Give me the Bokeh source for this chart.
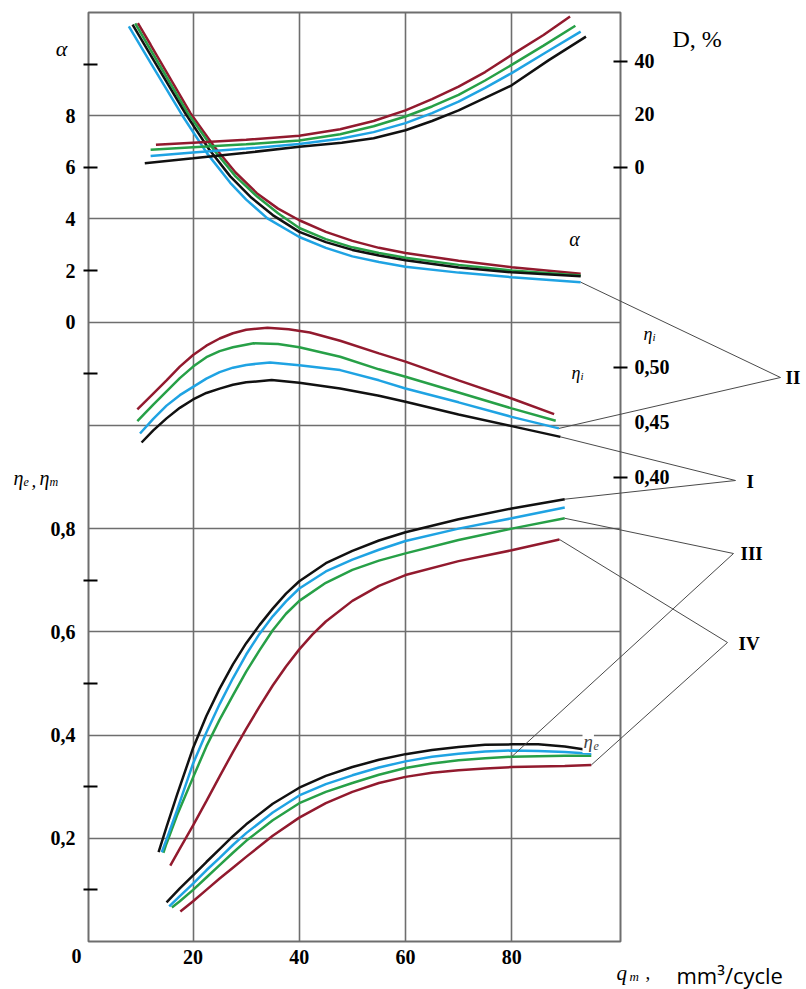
from bokeh.plotting import figure
from bokeh.models import Range1d, LinearAxis, FixedTicker, Label
from bokeh.core.properties import value
from bokeh.embed import file_html
from bokeh.resources import INLINE

# ---------------- data ----------------
# excess air ratio alpha (top panel, left scale)
q_alpha_red = [9.6, 12, 19.5, 24, 28, 32, 36, 40, 45, 50, 55, 60, 70, 80, 93]
alpha_red = [11.59, 10.75, 8.1, 6.8, 5.8, 5.0, 4.4, 3.95, 3.5, 3.15, 2.88, 2.68, 2.38, 2.13, 1.88]
q_alpha_green = [9.1, 12, 19, 24, 28, 32, 36, 40, 45, 50, 55, 60, 70, 80, 93]
alpha_green = [11.58, 10.55, 8.1, 6.65, 5.65, 4.88, 4.22, 3.65, 3.22, 2.9, 2.68, 2.5, 2.22, 2.0, 1.81]
q_alpha_blue = [7.9, 12, 18, 22.6, 27, 30, 34, 40, 45, 50, 55, 60, 70, 80, 93]
alpha_blue = [11.46, 10.05, 8.0, 6.55, 5.4, 4.75, 4.02, 3.3, 2.88, 2.55, 2.33, 2.15, 1.92, 1.74, 1.55]
q_alpha_black = [8.6, 12, 18.5, 23, 27, 31, 35, 40, 45, 50, 55, 60, 70, 80, 93]
alpha_black = [11.53, 10.35, 8.1, 6.7, 5.65, 4.82, 4.15, 3.5, 3.1, 2.8, 2.58, 2.4, 2.12, 1.93, 1.78]

# D, % (top panel, right scale)
q_D_red = [13, 20, 30, 40, 47.7, 54, 60, 65, 70, 75, 80, 86, 91]
D_red = [8.5, 9.3, 10.4, 11.9, 14.4, 17.5, 21.5, 25.8, 30.5, 36.0, 42.5, 50.0, 57.0]
q_D_green = [12, 20, 30, 40, 47.7, 54, 60, 65, 70, 75, 80, 86, 92]
D_green = [6.6, 7.6, 8.7, 10.1, 12.5, 15.5, 19.2, 23.0, 27.4, 32.8, 38.7, 46.0, 53.5]
q_D_blue = [12, 20, 30, 40, 47.7, 54, 60, 65, 70, 75, 80, 86.5, 93]
D_blue = [4.3, 5.6, 7.1, 8.8, 10.8, 13.3, 16.7, 20.5, 24.8, 30.0, 35.6, 43.5, 51.3]
q_D_black = [10.9, 20, 30, 40, 48, 54, 60, 65, 70, 75, 80, 87, 94]
D_black = [1.5, 3.4, 5.5, 7.8, 9.3, 11.0, 14.0, 17.5, 21.5, 26.2, 31.0, 40.5, 49.4]

# indicated efficiency eta_i (middle panel, right scale)
q_ei_red = [9.5, 12.5, 15, 17.5, 20, 22.5, 25, 27.5, 30, 34, 38, 42, 47.7, 55, 60, 70, 80, 88]
ei_red = [0.4616, 0.476, 0.488, 0.5005, 0.511, 0.5195, 0.526, 0.5308, 0.534, 0.5358, 0.5345,
          0.5315, 0.524, 0.5125, 0.505, 0.488, 0.4715, 0.4573]
q_ei_green = [9.5, 12.5, 15, 17.5, 20, 22.5, 25, 27.5, 31.4, 36, 40, 47.7, 55, 60, 70, 80, 88.3]
ei_green = [0.4509, 0.466, 0.478, 0.490, 0.5005, 0.509, 0.5145, 0.518, 0.5216, 0.521, 0.518,
            0.5094, 0.498, 0.4912, 0.477, 0.4625, 0.4512]
q_ei_blue = [10, 12.5, 15, 17.5, 20, 22.5, 25, 27.5, 30, 34.5, 40, 47.7, 55, 60, 70, 80, 88.9]
ei_blue = [0.4397, 0.453, 0.465, 0.4745, 0.482, 0.4895, 0.4955, 0.4995, 0.502, 0.5043, 0.5018,
           0.4973, 0.488, 0.4806, 0.468, 0.4548, 0.4443]
q_ei_black = [10.3, 12.5, 15, 17.5, 20, 22.5, 25, 27.5, 30, 34.8, 40, 47.7, 55, 60, 70, 80, 89.2]
ei_black = [0.4315, 0.4425, 0.4534, 0.463, 0.4706, 0.4765, 0.4805, 0.484, 0.4862, 0.4882, 0.4857,
            0.4806, 0.474, 0.4685, 0.457, 0.4464, 0.4366]

# mechanical efficiency eta_m (bottom panel, left scale)
q_em_red = [15.7, 17.5, 20, 22.5, 25, 27.5, 30, 32.5, 35, 37.5, 40, 42.5, 45, 50, 55, 60, 70, 80, 89]
em_red = [0.147, 0.18, 0.225, 0.272, 0.32, 0.367, 0.412, 0.455, 0.496, 0.533, 0.566, 0.595, 0.62,
          0.66, 0.689, 0.71, 0.737, 0.758, 0.779]
q_em_green = [14.4, 15, 17, 20, 22.5, 25, 27.5, 30, 32.5, 35, 37.5, 40, 45, 50, 55, 60, 70, 80, 90]
em_green = [0.172, 0.19, 0.245, 0.318, 0.378, 0.43, 0.477, 0.523, 0.564, 0.603, 0.635, 0.66, 0.695,
            0.72, 0.738, 0.752, 0.778, 0.800, 0.820]
q_em_blue = [14.1, 15, 17, 20, 22.5, 25, 27.5, 30, 32.5, 35, 37.5, 40, 45, 50, 55, 60, 70, 80, 90]
em_blue = [0.173, 0.198, 0.255, 0.345, 0.405, 0.46, 0.51, 0.556, 0.596, 0.630, 0.659, 0.684, 0.717,
           0.740, 0.759, 0.776, 0.800, 0.820, 0.841]
q_em_black = [13.5, 15, 17, 20, 22.5, 25, 27.5, 30, 32.5, 35, 37.5, 40, 45, 50, 55, 60, 70, 80, 90]
em_black = [0.173, 0.222, 0.285, 0.375, 0.437, 0.49, 0.537, 0.578, 0.613, 0.645, 0.674, 0.698, 0.733,
            0.757, 0.777, 0.793, 0.818, 0.839, 0.857]

# effective efficiency eta_e (bottom panel, left scale)
q_ee_red = [17.6, 20, 22.5, 25, 27.5, 30, 35, 40, 45, 50, 55, 60, 65, 70, 75, 80, 85, 90, 95]
ee_red = [0.058, 0.078, 0.1, 0.122, 0.143, 0.164, 0.205, 0.24, 0.268, 0.29, 0.307, 0.319, 0.327,
          0.332, 0.335, 0.338, 0.339, 0.340, 0.342]
q_ee_green = [16, 17.5, 20, 22.5, 25, 27.5, 30, 35, 40, 45, 50, 55, 60, 65, 70, 75, 80, 85, 90, 95]
ee_green = [0.066, 0.078, 0.100, 0.124, 0.148, 0.172, 0.195, 0.235, 0.268, 0.29, 0.307, 0.323, 0.336,
            0.345, 0.351, 0.355, 0.358, 0.359, 0.36, 0.36]
q_ee_blue = [15.5, 17.5, 20, 22.5, 25, 27.5, 30, 35, 40, 45, 50, 55, 60, 65, 70, 75, 80, 85, 90, 95]
ee_blue = [0.068, 0.088, 0.112, 0.138, 0.162, 0.187, 0.21, 0.25, 0.283, 0.305, 0.322, 0.337, 0.349,
           0.358, 0.364, 0.368, 0.370, 0.369, 0.367, 0.364]
q_ee_black = [15, 17.5, 20, 22.5, 25, 27.5, 30, 35, 40, 45, 50, 55, 60, 65, 70, 75, 80, 85, 90, 95]
ee_black = [0.076, 0.103, 0.128, 0.154, 0.179, 0.204, 0.227, 0.267, 0.298, 0.321, 0.338, 0.352, 0.363,
            0.371, 0.377, 0.381, 0.382, 0.382, 0.378, 0.370]

# tick values / labels
x_grid = [20, 40, 60, 80]
x_labels = ["20", "40", "60", "80"]
eta_ticks = [0.2, 0.4, 0.6, 0.8]
eta_labels = ["0,2", "0,4", "0,6", "0,8"]
eta_minor = [0.1, 0.3, 0.5, 0.7, 1.1]
alpha_ticks = [0, 2, 4, 6, 8]
alpha_labels = ["0", "2", "4", "6", "8"]
alpha_minor = [2, 6, 10]
D_ticks = [0, 20, 40]
D_labels = ["0", "20", "40"]
D_minor = [0, 40]
ei_ticks = [0.40, 0.45, 0.50]
ei_labels = ["0,40", "0,45", "0,50"]
ei_minor = [0.40, 0.50]

RED, GREEN, BLUE, BLACK = "#921a2e", "#27a047", "#1fa3e3", "#111111"
GRID = "#6e6e6e"


# ---------------- scales ----------------
def a2m(a):   # alpha -> main (eta_e) scale
    return 1.2 + a / 20.0


def d2m(d):   # D -> main
    return 1.5 + d / 195.0


def i2m(e):   # eta_i -> main
    return 1.0063 + (e - 0.45) * 2.132


W, H = 806, 989
L, R, T, B = 88, 186, 12, 48
X0, X1 = 0.3, 100.5
Y0, Y1 = 0.0, 1.8
FW, FH = W - L - R, H - T - B


def X(px):
    return X0 + (px - L) * (X1 - X0) / FW


def Y(py):
    return Y0 + (H - B - py) * (Y1 - Y0) / FH


p = figure(width=W, height=H, x_range=Range1d(X0, X1), y_range=Range1d(Y0, Y1),
           output_backend="svg", toolbar_location=None,
           x_axis_location=None, y_axis_location=None,
           min_border_left=L, min_border_right=R, min_border_top=T, min_border_bottom=B)
p.extra_y_ranges = {
    "alpha": Range1d(20 * (Y0 - 1.2), 20 * (Y1 - 1.2)),
    "D": Range1d(195 * (Y0 - 1.5), 195 * (Y1 - 1.5)),
    "eta_i": Range1d(0.45 + (Y0 - 1.0063) / 2.132, 0.45 + (Y1 - 1.0063) / 2.132),
}
p.outline_line_color = GRID
p.outline_line_width = 2
p.background_fill_color = "white"
p.border_fill_color = "white"

p.xgrid.ticker = FixedTicker(ticks=x_grid)
p.ygrid.ticker = FixedTicker(ticks=[0.2, 0.4, 0.6, 0.8, 1.0, 1.2, 1.4, 1.6])
for g in (p.xgrid, p.ygrid):
    g.grid_line_color = GRID
    g.grid_line_width = 1.6


def style_axis(ax, standoff, tin, tout):
    ax.axis_line_color = None
    ax.major_tick_in = 0
    ax.major_tick_out = 0
    ax.major_tick_line_color = None
    ax.minor_tick_in = tin
    ax.minor_tick_out = tout
    ax.minor_tick_line_color = "black"
    ax.minor_tick_line_width = 2.2
    ax.major_label_standoff = standoff
    ax.major_label_text_font = "Liberation Serif"
    ax.major_label_text_font_style = "bold"
    ax.major_label_text_font_size = "20px"
    ax.major_label_text_color = "black"


# left axis: eta_e/eta_m and alpha on the same line
l_ticks = list(eta_ticks) + [a2m(a) for a in alpha_ticks]
l_lab = list(eta_labels) + list(alpha_labels)
l_minor = list(eta_minor) + [a2m(a) for a in alpha_minor]
left = LinearAxis(ticker=FixedTicker(ticks=l_ticks, minor_ticks=l_minor))
left.major_label_overrides = {t: s for t, s in zip(l_ticks, l_lab)}
style_axis(left, 8, 9, 5)
p.add_layout(left, "left")

# right axis: D and eta_i
r_ticks = [d2m(d) for d in D_ticks] + [i2m(e) for e in ei_ticks]
r_lab = list(D_labels) + list(ei_labels)
r_minor = [d2m(d) for d in D_minor] + [i2m(e) for e in ei_minor]
right = LinearAxis(ticker=FixedTicker(ticks=r_ticks, minor_ticks=r_minor))
right.major_label_overrides = {t: s for t, s in zip(r_ticks, r_lab)}
style_axis(right, 7, 7, 7)
p.add_layout(right, "right")

bottom = LinearAxis(ticker=FixedTicker(ticks=x_grid))
bottom.major_label_overrides = {t: s for t, s in zip(x_grid, x_labels)}
style_axis(bottom, 8, 0, 0)
p.add_layout(bottom, "below")

LW = 2.5
series = [
    ("alpha", [(q_alpha_red, alpha_red, RED), (q_alpha_green, alpha_green, GREEN),
               (q_alpha_black, alpha_black, BLACK), (q_alpha_blue, alpha_blue, BLUE)]),
    ("D", [(q_D_red, D_red, RED), (q_D_green, D_green, GREEN),
           (q_D_blue, D_blue, BLUE), (q_D_black, D_black, BLACK)]),
    ("eta_i", [(q_ei_red, ei_red, RED), (q_ei_green, ei_green, GREEN),
               (q_ei_blue, ei_blue, BLUE), (q_ei_black, ei_black, BLACK)]),
    ("default", [(q_em_red, em_red, RED), (q_em_green, em_green, GREEN),
                 (q_em_blue, em_blue, BLUE), (q_em_black, em_black, BLACK)]),
    ("default", [(q_ee_red, ee_red, RED), (q_ee_green, ee_green, GREEN),
                 (q_ee_blue, ee_blue, BLUE), (q_ee_black, ee_black, BLACK)]),
]
for rng, lines in series:
    for xs, ys, c in lines:
        p.line(xs, ys, y_range_name=rng, line_color=c, line_width=LW)

# ---------------- leader lines to the group numerals ----------------
LEAD = "#4a4a4a"
v_II, v_I, v_III, v_IV = (780, 377), (735, 480), (733, 553), (727, 642)
lead_from = [
    (q_alpha_blue[-1], a2m(alpha_blue[-1]), v_II),
    (q_ei_blue[-1], i2m(ei_blue[-1]), v_II),
    (q_ei_black[-1], i2m(ei_black[-1]), v_I),
    (q_em_black[-1], em_black[-1], v_I),
    (q_em_green[-1], em_green[-1], v_III),
    (80, ee_green[q_ee_green.index(80)], v_III),
    (q_em_red[-1], em_red[-1], v_IV),
    (q_ee_red[-1], ee_red[-1], v_IV),
]
p.segment(x0=[a for a, b, v in lead_from], y0=[b for a, b, v in lead_from],
          x1=[X(v[0]) for a, b, v in lead_from], y1=[Y(v[1]) for a, b, v in lead_from],
          line_color=LEAD, line_width=1, level="overlay")


# ---------------- texts ----------------
def txt(px, py, s, size=17, style="normal", font="Liberation Serif", align="left",
        baseline="middle"):
    p.text(x=[X(px)], y=[Y(py)], text=[s], text_font=value(font),
           text_font_size=f"{size}px", text_font_style=style,
           text_align=align, text_baseline=baseline, text_color="black", level="overlay")


def eta(px, py, sub, size=18):
    txt(px, py, "\u03b7", size=size, style="italic", baseline="alphabetic")
    txt(px + 0.5 * size, py + 0.22 * size, sub, size=int(size * 0.62), style="italic",
        baseline="alphabetic")


txt(61, 48, "\u03b1", size=22, style="italic", align="center")
txt(672, 38, "D, %", size=24)
txt(574, 238, "\u03b1", size=20, style="italic", align="center")
eta(643, 333, "i", size=18)
eta(571, 372, "i", size=18)
eta(13, 477, "e", size=20)
txt(31, 480, ",", size=19, style="italic")
eta(39, 477, "m", size=20)

# eta_e label sitting on the 0,4 grid line (white box behind)
p.add_layout(Label(x=X(582), y=Y(741), text="\u03b7", text_font="Liberation Serif",
                   text_font_size="19px", text_font_style="italic", text_baseline="alphabetic",
                   background_fill_color="white", padding=1))
p.add_layout(Label(x=X(592), y=Y(745), text="e", text_font="Liberation Serif",
                   text_font_size="12px", text_font_style="italic", text_baseline="alphabetic",
                   background_fill_color="white", padding=1))

txt(785, 377, "II", size=19, style="bold")
txt(746, 481, "I", size=19, style="bold")
txt(740, 553, "III", size=19, style="bold")
txt(738, 643, "IV", size=19, style="bold")
txt(76, 955, "0", size=20, style="bold", align="center")

txt(616, 972, "q", size=21, style="italic", baseline="alphabetic")
txt(629, 976, "m", size=13, style="italic", baseline="alphabetic")
txt(645, 972, ",", size=19, baseline="alphabetic")
txt(676, 974, "mm\u00b3/cycle", size=22, font="Open Sans", baseline="alphabetic")

open("out.html", "w").write(file_html(p, INLINE))
